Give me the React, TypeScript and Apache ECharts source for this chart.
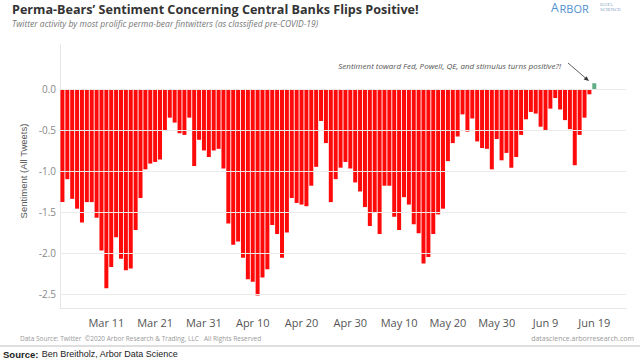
import React, { useEffect, useRef } from "react";
import * as echarts from "echarts";

// Daily sentiment, Mar 2 – Jun 19, 2020
const sentiment = [
  -1.38, -1.10, -1.34, -1.46, -1.63, -1.38, -1.38, -1.57, -1.97, -2.43,
  -2.17, -1.81, -2.07, -2.21, -2.19, -1.72, -1.33, -0.98, -0.91, -0.89,
  -0.86, -0.50, -0.35, -0.41, -0.54, -0.56, -0.35, -0.94, -0.62, -0.75,
  -0.83, -0.75, -0.73, -0.97, -1.64, -1.90, -1.86, -2.06, -2.32, -2.35,
  -2.52, -2.30, -2.20, -1.66, -1.77, -2.06, -1.75, -1.33, -1.39, -1.41,
  -1.43, -1.18, -0.95, -0.39, -0.66, -1.38, -1.10, -0.96, -0.89, -0.97,
  -1.14, -1.25, -1.44, -1.67, -1.50, -1.77, -1.18, -1.18, -1.56, -1.72,
  -1.32, -1.41, -1.65, -1.76, -2.13, -2.05, -1.77, -1.53, -1.46, -0.88,
  -0.66, -0.58, -0.31, -0.52, -0.36, -0.64, -0.72, -0.73, -0.98, -0.61,
  -0.87, -0.78, -0.96, -0.83, -0.56, -0.37, -0.28, -0.30, -0.46, -0.50,
  -0.24, -0.11, -0.25, -0.38, -0.49, -0.93, -0.56, -0.35, -0.065, 0.07,
];

const tickLabels = [
  "Mar 11", "Mar 21", "Mar 31", "Apr 10", "Apr 20", "Apr 30",
  "May 10", "May 20", "May 30", "Jun 9", "Jun 19",
];
const yTicks = [0, -0.5, -1, -1.5, -2, -2.5];

const monthNames = ["Mar", "Apr", "May", "Jun"];
const monthLengths = [31, 30, 31, 30];
const firstDay = 2;
const dayCount = 116; // axis runs a few days past the data (to Jun 25)

function buildDays(): string[] {
  const out: string[] = [];
  let m = 0;
  let d = firstDay;
  while (out.length < dayCount) {
    out.push(`${monthNames[m]} ${d}`);
    d += 1;
    if (d > monthLengths[m]) {
      d = 1;
      m += 1;
    }
  }
  return out;
}
const days = buildDays();

const RED = "#ff0a0a";
const GREEN = "#5fae86";

export default function App() {
  const ref = useRef<HTMLDivElement>(null);

  useEffect(() => {
    if (!ref.current) return;
    const chart = echarts.init(ref.current, null, { renderer: "svg" });

    const option: any = {
      animation: false,
      backgroundColor: "#ffffff",
      grid: { left: 60, top: 44.7, width: 566, height: 264, containLabel: false },
      xAxis: {
        type: "category",
        data: days,
        boundaryGap: true,
        axisLine: { show: true, onZero: false, lineStyle: { color: "#e6e6e6" } },
        axisTick: { show: false },
        splitLine: { show: false },
        axisLabel: {
          interval: (_i: number, v: string) => tickLabels.includes(v),
          margin: 8,
          color: "#555",
          fontSize: 11,
          fontFamily: "Open Sans",
        },
      },
      yAxis: {
        type: "value",
        min: -2.68,
        max: 0.54,
        axisLine: { show: true, lineStyle: { color: "#e6e6e6" } },
        axisTick: { show: false },
        splitLine: { show: false },
        axisLabel: {
          customValues: yTicks,
          formatter: (v: number) => v.toFixed(1),
          color: "#888",
          fontSize: 10,
          fontFamily: "Open Sans",
          margin: 4,
        },
      },
      series: [
        {
          type: "line",
          data: [],
          silent: true,
          z: 1,
          markLine: {
            silent: true,
            symbol: "none",
            label: { show: false },
            lineStyle: { color: "#ebebeb", width: 1, type: "solid" },
            data: yTicks.map((v) => ({ yAxis: v })),
          },
        },
        {
          type: "bar",
          data: sentiment,
          z: 3,
          barCategoryGap: "18%",
          itemStyle: {
            color: (p: any) => (p.value >= 0 ? GREEN : RED),
          },
        },
      ],
      graphic: [
        {
          type: "text",
          x: 12,
          y: 9,
          style: {
            text: "Perma-Bears\u2019 Sentiment Concerning Central Banks Flips Positive!",
            fontSize: 12.6,
            fontWeight: "bold",
            fontFamily: "Open Sans",
            fill: "#333",
            verticalAlign: "middle",
          },
        },
        {
          type: "text",
          x: 12,
          y: 23,
          style: {
            text: "Twitter activity by most prolific perma-bear fintwitters (as classified pre-COVID-19)",
            fontSize: 8.5,
            fontStyle: "italic",
            fontFamily: "Open Sans",
            fill: "#777",
            verticalAlign: "middle",
          },
        },
        {
          type: "text",
          x: 551,
          y: 7.5,
          style: {
            text: "A",
            fontSize: 12,
            fontFamily: "Open Sans",
            fill: "#4f8fd0",
            verticalAlign: "middle",
          },
        },
        {
          type: "text",
          x: 559.5,
          y: 8,
          style: {
            text: "RBOR",
            fontSize: 11,
            fontFamily: "Open Sans",
            fill: "#4f8fd0",
            verticalAlign: "middle",
          },
        },
        {
          type: "text",
          x: 600,
          y: 4.5,
          style: {
            text: "DATA",
            fontSize: 5,
            fontFamily: "Liberation Serif",
            fill: "#7f9fc2",
            verticalAlign: "middle",
          },
        },
        {
          type: "text",
          x: 600,
          y: 9,
          style: {
            text: "SCIENCE",
            fontSize: 5,
            fontFamily: "Liberation Serif",
            fill: "#7f9fc2",
            verticalAlign: "middle",
          },
        },
        {
          type: "text",
          x: 23,
          y: 171,
          rotation: Math.PI / 2,
          style: {
            text: "Sentiment (All Tweets)",
            fontSize: 9.5,
            fontFamily: "Liberation Sans",
            fill: "#555",
            align: "center",
            verticalAlign: "middle",
          },
        },
        {
          type: "text",
          x: 561,
          y: 65,
          style: {
            text: "Sentiment toward Fed, Powell, QE, and stimulus turns positive?!",
            fontSize: 8,
            fontStyle: "italic",
            fontFamily: "Open Sans",
            fill: "#555",
            align: "right",
            verticalAlign: "middle",
          },
        },
        {
          type: "line",
          shape: { x1: 568, y1: 63, x2: 586, y2: 78.5 },
          style: { stroke: "#333", lineWidth: 0.8 },
        },
        {
          type: "polygon",
          shape: { points: [[589, 81], [583.7, 79.6], [586.5, 76.2]] },
          style: { fill: "#333" },
        },
        {
          type: "text",
          x: 20,
          y: 338,
          style: {
            text: "Data Source: Twitter  \u00A92020 Arbor Research & Trading, LLC   All Rights Reserved",
            fontSize: 6.5,
            fontFamily: "Open Sans",
            fill: "#999",
            verticalAlign: "middle",
          },
        },
        {
          type: "text",
          x: 634,
          y: 338,
          style: {
            text: "datascience.arborresearch.com",
            fontSize: 7,
            fontFamily: "Open Sans",
            fill: "#999",
            align: "right",
            verticalAlign: "middle",
          },
        },
        {
          type: "line",
          shape: { x1: 0, y1: 346, x2: 640, y2: 346 },
          style: { stroke: "#bdbdbd", lineWidth: 1 },
        },
        {
          type: "text",
          x: 3,
          y: 354,
          style: {
            text: "{b|Source:} {n|Ben Breitholz, Arbor Data Science}",
            verticalAlign: "middle",
            rich: {
              b: { fontSize: 9.5, fontWeight: "bold", fontFamily: "Liberation Sans", fill: "#222" },
              n: { fontSize: 9, fontFamily: "Liberation Sans", fill: "#222" },
            },
          },
        },
      ],
    };

    chart.setOption(option);
    return () => chart.dispose();
  }, []);

  return (
    <div
      ref={ref}
      style={{ position: "fixed", left: 0, top: 0, width: 640, height: 360 }}
    />
  );
}
